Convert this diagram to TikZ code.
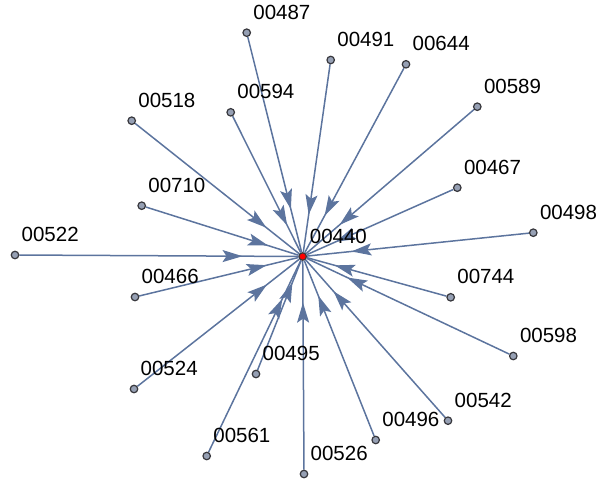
\documentclass[tikz,border=0pt]{standalone}
\usepackage{fontspec}
\setmainfont{Liberation Sans}
\usetikzlibrary{arrows.meta,decorations.markings,backgrounds}
\definecolor{edgeblue}{RGB}{92,116,158}
\definecolor{vtxgray}{RGB}{150,160,180}
\definecolor{vtxline}{RGB}{55,55,60}

\begin{document}
\begin{tikzpicture}[
  x=1pt, y=-1pt,
  vtx/.style={circle, draw=vtxline, fill=vtxgray, line width=1.2pt, minimum size=7.5pt, inner sep=0pt},
  hub/.style={vtx, fill=red},
  lbl/.style={anchor=base west, inner sep=0pt, font=\fontsize{20.5}{22}\selectfont},
  edge/.style={draw=edgeblue, line width=1.5pt,
    decoration={markings, mark=at position 0.8 with {\arrow[edgeblue]{Stealth[length=20pt, width=12pt, inset=4pt]}}},
    postaction={decorate}},
]
\useasboundingbox (0,0) rectangle (600,490);

% hub
\node[hub] (v440) at (302.7,256.5) {};
\node[lbl] (t440) at ([shift={(7,-13.5)}]v440.center) {00440};

% outer vertices, clockwise from the top
\node[vtx] (v487) at (246.7,32.7) {};
\node[vtx] (v491) at (330.7,60) {};
\node[vtx] (v644) at (406,64.3) {};
\node[vtx] (v589) at (477.3,106.7) {};
\node[vtx] (v467) at (457.3,187.7) {};
\node[vtx] (v498) at (533.3,232.7) {};
\node[vtx] (v744) at (450.7,297.3) {};
\node[vtx] (v598) at (513.3,356) {};
\node[vtx] (v542) at (448,420.7) {};
\node[vtx] (v496) at (375.7,440) {};
\node[vtx] (v526) at (304,474) {};
\node[vtx] (v561) at (206.7,456) {};
\node[vtx] (v495) at (256,374) {};
\node[vtx] (v524) at (134,389) {};
\node[vtx] (v466) at (135,297) {};
\node[vtx] (v522) at (15,255) {};
\node[vtx] (v710) at (141.7,205.7) {};
\node[vtx] (v518) at (131.7,120.7) {};
\node[vtx] (v594) at (230.7,112.3) {};

% labels, up and right of each vertex
\foreach \n in {487,491,644,589,467,498,744,598,542,496,526,561,495,524,466,522,710,518,594}
  \node[lbl] (t\n) at ([shift={(6.5,-13.5)}]v\n.center) {00\n};

% edges into the hub
\begin{scope}[on background layer]
\foreach \n in {487,491,644,589,467,498,744,598,542,496,526,561,495,524,466,522,710,518,594}
  \path[edge] (v\n) -- (v440);
\end{scope}
\end{tikzpicture}
\end{document}
